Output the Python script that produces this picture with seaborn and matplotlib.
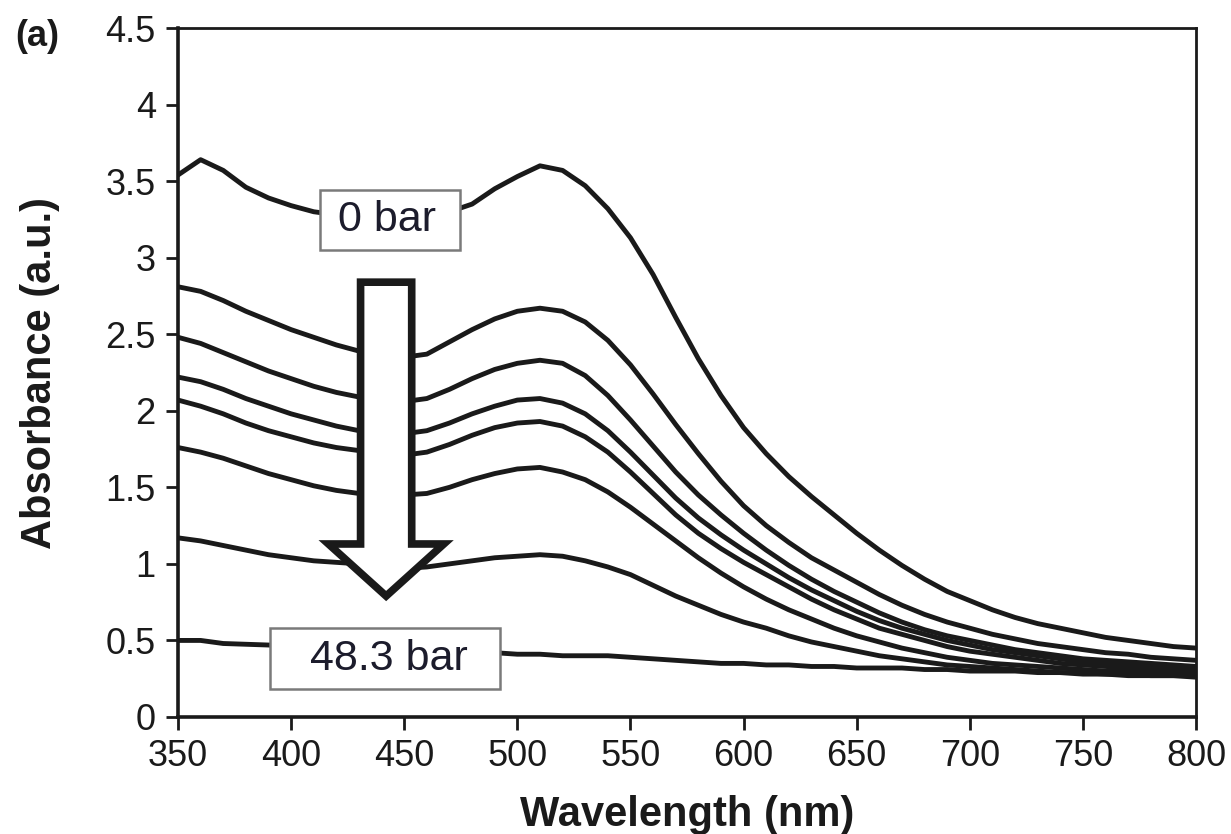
import numpy as np
import pandas as pd
import matplotlib
matplotlib.use("Agg")
import matplotlib.pyplot as plt
from matplotlib.patches import Polygon, Rectangle
import seaborn as sns

# ---------------- data ----------------
wavelength = list(range(350, 801, 10))

abs_0bar = [3.54, 3.64, 3.57, 3.46, 3.39, 3.34, 3.30, 3.28, 3.27, 3.27,
            3.28, 3.29, 3.30, 3.35, 3.45, 3.53, 3.60, 3.57, 3.47, 3.32,
            3.13, 2.89, 2.61, 2.34, 2.10, 1.89, 1.72, 1.57, 1.44, 1.32,
            1.20, 1.09, 0.99, 0.90, 0.82, 0.76, 0.70, 0.65, 0.61, 0.58,
            0.55, 0.52, 0.50, 0.48, 0.46, 0.45]
abs_c2 = [2.81, 2.78, 2.72, 2.65, 2.59, 2.53, 2.48, 2.43, 2.39, 2.36,
          2.35, 2.37, 2.45, 2.53, 2.60, 2.65, 2.67, 2.65, 2.58, 2.46,
          2.30, 2.11, 1.91, 1.72, 1.54, 1.38, 1.25, 1.14, 1.04, 0.96,
          0.88, 0.80, 0.73, 0.67, 0.62, 0.58, 0.54, 0.51, 0.48, 0.46,
          0.44, 0.42, 0.41, 0.39, 0.38, 0.37]
abs_c3 = [2.48, 2.44, 2.38, 2.32, 2.26, 2.21, 2.16, 2.12, 2.09, 2.07,
          2.06, 2.08, 2.14, 2.21, 2.27, 2.31, 2.33, 2.31, 2.23, 2.10,
          1.94, 1.77, 1.60, 1.45, 1.32, 1.20, 1.09, 0.99, 0.90, 0.82,
          0.75, 0.68, 0.62, 0.57, 0.53, 0.50, 0.47, 0.44, 0.42, 0.40,
          0.38, 0.37, 0.36, 0.35, 0.34, 0.33]
abs_c4 = [2.22, 2.19, 2.14, 2.08, 2.03, 1.98, 1.94, 1.90, 1.87, 1.85,
          1.85, 1.87, 1.92, 1.98, 2.03, 2.07, 2.08, 2.05, 1.98, 1.87,
          1.73, 1.58, 1.43, 1.30, 1.19, 1.09, 1.00, 0.91, 0.83, 0.76,
          0.69, 0.63, 0.58, 0.54, 0.50, 0.47, 0.44, 0.42, 0.40, 0.38,
          0.36, 0.35, 0.34, 0.33, 0.32, 0.32]
abs_c5 = [2.07, 2.03, 1.98, 1.92, 1.87, 1.83, 1.79, 1.76, 1.74, 1.72,
          1.71, 1.73, 1.78, 1.84, 1.89, 1.92, 1.93, 1.90, 1.83, 1.73,
          1.60, 1.46, 1.32, 1.20, 1.10, 1.01, 0.93, 0.85, 0.77, 0.70,
          0.64, 0.58, 0.54, 0.50, 0.46, 0.43, 0.41, 0.39, 0.37, 0.35,
          0.34, 0.33, 0.32, 0.31, 0.31, 0.30]
abs_c6 = [1.76, 1.73, 1.69, 1.64, 1.59, 1.55, 1.51, 1.48, 1.46, 1.45,
          1.45, 1.46, 1.50, 1.55, 1.59, 1.62, 1.63, 1.60, 1.55, 1.47,
          1.37, 1.26, 1.15, 1.04, 0.94, 0.85, 0.77, 0.70, 0.64, 0.58,
          0.53, 0.49, 0.45, 0.42, 0.39, 0.37, 0.35, 0.34, 0.33, 0.32,
          0.31, 0.30, 0.30, 0.29, 0.29, 0.29]
abs_c7 = [1.17, 1.15, 1.12, 1.09, 1.06, 1.04, 1.02, 1.01, 1.00, 0.98,
          0.97, 0.98, 1.00, 1.02, 1.04, 1.05, 1.06, 1.05, 1.02, 0.98,
          0.93, 0.86, 0.79, 0.73, 0.67, 0.62, 0.58, 0.53, 0.49, 0.46,
          0.43, 0.40, 0.38, 0.36, 0.34, 0.33, 0.32, 0.31, 0.30, 0.29,
          0.29, 0.28, 0.28, 0.27, 0.27, 0.27]
abs_48bar = [0.50, 0.50, 0.48, 0.475, 0.47, 0.46, 0.46, 0.45, 0.45, 0.44,
             0.44, 0.43, 0.43, 0.42, 0.42, 0.41, 0.41, 0.40, 0.40, 0.40,
             0.39, 0.38, 0.37, 0.36, 0.35, 0.35, 0.34, 0.34, 0.33, 0.33,
             0.32, 0.32, 0.32, 0.31, 0.31, 0.30, 0.30, 0.30, 0.29, 0.29,
             0.28, 0.28, 0.27, 0.27, 0.27, 0.26]

series = {"s1": abs_0bar, "s2": abs_c2, "s3": abs_c3, "s4": abs_c4,
          "s5": abs_c5, "s6": abs_c6, "s7": abs_c7, "s8": abs_48bar}

label_top = "0 bar"
label_bottom = "48.3 bar"
x_ticks = list(range(350, 801, 50))
y_ticks = [0, 0.5, 1, 1.5, 2, 2.5, 3, 3.5, 4, 4.5]
y_ticklabels = ["0", "0.5", "1", "1.5", "2", "2.5", "3", "3.5", "4", "4.5"]

# ---------------- build table ----------------
rows = []
for name, vals in series.items():
    for w, a in zip(wavelength, vals):
        rows.append({"Wavelength": w, "Absorbance": a, "series": name})
df = pd.DataFrame(rows)

# ---------------- style ----------------
sns.set_theme(style="ticks")
plt.rcParams["font.family"] = ["Liberation Sans", "DejaVu Sans"]

fig = plt.figure(figsize=(12.31, 8.34), dpi=100)
ax = fig.add_axes([0.1446, 0.1403, 0.9716 - 0.1446, 0.9664 - 0.1403])

line_col = "#1a1a1a"
sns.lineplot(data=df, x="Wavelength", y="Absorbance", hue="series",
             palette=[line_col] * len(series), linewidth=3.5,
             legend=False, ax=ax, sort=False, estimator=None, zorder=2)

ax.set_xlim(350, 800)
ax.set_ylim(0, 4.5)
ax.set_xticks(x_ticks)
ax.set_xticklabels([str(t) for t in x_ticks])
ax.set_yticks(y_ticks)
ax.set_yticklabels(y_ticklabels)
ax.tick_params(axis="both", direction="out", length=9, width=2,
               labelsize=26, pad=7, colors="#1a1a1a")
for s in ["left", "bottom"]:
    ax.spines[s].set_linewidth(2.6)
for s in ["top", "right"]:
    ax.spines[s].set_linewidth(2.0)
for s in ax.spines.values():
    s.set_color("#1a1a1a")

ax.set_xlabel("Wavelength (nm)", fontsize=30, fontweight="bold",
              color="#1a1a1a", labelpad=15)
ax.set_ylabel("Absorbance (a.u.)", fontsize=30, fontweight="bold",
              color="#1a1a1a", labelpad=33)

# ---------------- annotations ----------------
cx = 442
arrow_pts = [(cx - 11.3, 2.84), (cx + 11.3, 2.84), (cx + 11.3, 1.13),
             (cx + 25.5, 1.13), (cx, 0.79), (cx - 25.5, 1.13),
             (cx - 11.3, 1.13)]
ax.add_patch(Polygon(arrow_pts, closed=True, facecolor="white",
                     edgecolor="#1a1a1a", linewidth=5.5, joinstyle="miter",
                     zorder=4))

box_kw = dict(facecolor="white", edgecolor="#7a7a7a", linewidth=1.8, zorder=5)
ax.add_patch(Rectangle((412.8, 3.05), 474.7 - 412.8, 3.44 - 3.05, **box_kw))
ax.add_patch(Rectangle((390.7, 0.18), 492.4 - 390.7, 0.58 - 0.18, **box_kw))
ax.text(442.5, 3.245, label_top, fontsize=31, color="#1c1c2c",
        ha="center", va="center", zorder=6)
ax.text(443.0, 0.38, label_bottom, fontsize=31, color="#1c1c2c",
        ha="center", va="center", zorder=6)

fig.text(37 / 1231, 1 - 37 / 834, "(a)", fontsize=26, fontweight="bold",
         color="#1a1a1a", ha="center", va="center")

fig.savefig("out.png", dpi=100)
